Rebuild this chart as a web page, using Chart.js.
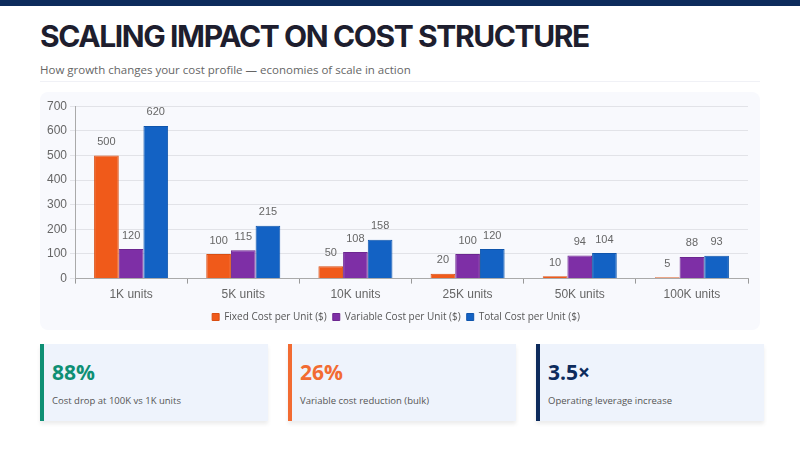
<!DOCTYPE html>
<html>
<head>
<meta charset="utf-8">
<script src="https://cdn.jsdelivr.net/npm/chart.js@4"></script>
<style>
  body { margin: 0; width: 800px; height: 450px; background: #fff; font-family: "Open Sans", sans-serif; overflow: hidden; position: relative; }
  .topbar { position: absolute; left: 0; top: 0; width: 800px; height: 6px; background: #0d2b5c; }
  h1 { position: absolute; left: 40px; top: 18px; margin: 0; font-family: Inter, sans-serif; font-weight: 700; font-size: 30px; letter-spacing: -1.4px; color: #1e1e2e; }
  .sub { position: absolute; left: 40px; top: 62px; font-size: 11.5px; color: #666; }
  .rule { position: absolute; left: 40px; top: 81px; width: 720px; height: 1px; background: #f0f1f6; }
  .panel { position: absolute; left: 40px; top: 92px; width: 720px; height: 238px; background: #f8f9fd; border-radius: 8px; }
  .chart-wrap { position: absolute; left: 4px; top: 4px; width: 712px; height: 236px; }
  .card { position: absolute; top: 344px; width: 224px; height: 77px; background: #eef3fc; border-left: 4px solid; box-shadow: 0 3px 4px rgba(0,0,0,0.08); }
  .card .val { position: absolute; left: 8px; top: 14px; font-size: 21px; font-weight: 700; }
  .card .lbl { position: absolute; left: 8px; top: 50px; font-size: 9.5px; color: #555; }
</style>
</head>
<body>
<div class="topbar"></div>
<h1>SCALING IMPACT ON COST STRUCTURE</h1>
<div class="sub">How growth changes your cost profile — economies of scale in action</div>
<div class="rule"></div>
<div class="panel"><div class="chart-wrap"><canvas id="chart"></canvas></div></div>

<div class="card" style="left:40px;border-color:#0e8f74"><div class="val" style="color:#0e8f74">88%</div><div class="lbl">Cost drop at 100K vs 1K units</div></div>
<div class="card" style="left:288px;border-color:#f26b32"><div class="val" style="color:#f26b32">26%</div><div class="lbl">Variable cost reduction (bulk)</div></div>
<div class="card" style="left:536px;border-color:#0d2b5c"><div class="val" style="color:#0d2b5c">3.5×</div><div class="lbl">Operating leverage increase</div></div>

<script>
const categories = ['1K units', '5K units', '10K units', '25K units', '50K units', '100K units'];
const fixedCost = [500, 100, 50, 20, 10, 5];
const variableCost = [120, 115, 108, 100, 94, 88];
const totalCost = [620, 215, 158, 120, 104, 93];

// draws the value above each bar
const valueLabels = {
    id: 'valueLabels',
    afterDatasetsDraw(chart) {
        const ctx = chart.ctx;
        ctx.save();
        ctx.font = '11px "Liberation Sans", Arial, sans-serif';
        ctx.fillStyle = '#666';
        ctx.textAlign = 'center';
        ctx.textBaseline = 'bottom';
        chart.data.datasets.forEach((ds, i) => {
            chart.getDatasetMeta(i).data.forEach((bar, j) => {
                ctx.fillText(ds.data[j], bar.x, bar.y - 8);
            });
        });
        ctx.restore();
    }
};

new Chart(document.getElementById('chart'), {
    type: 'bar',
    data: {
        labels: categories,
        datasets: [
            { label: 'Fixed Cost per Unit ($)', data: fixedCost, backgroundColor: '#f05a1a', borderColor: '#d94e12', borderWidth: 1 },
            { label: 'Variable Cost per Unit ($)', data: variableCost, backgroundColor: '#7e2fa6', borderColor: '#6c2690', borderWidth: 1 },
            { label: 'Total Cost per Unit ($)', data: totalCost, backgroundColor: '#1362c4', borderColor: '#0f55ac', borderWidth: 1 }
        ]
    },
    options: {
        responsive: true,
        maintainAspectRatio: false,
        animation: false,
        layout: { padding: { left: 0, right: 8, top: 0, bottom: 0 } },
        datasets: { bar: { categoryPercentage: 0.66, barPercentage: 1 } },
        plugins: {
            legend: {
                position: 'bottom',
                labels: { boxWidth: 7, boxHeight: 7, padding: 6, color: '#555', font: { family: '"Open Sans", sans-serif', size: 10 } }
            },
            tooltip: { enabled: false }
        },
        scales: {
            x: {
                grid: { drawOnChartArea: false, tickLength: 5, color: '#999' },
                border: { color: '#aaa' },
                ticks: { color: '#666', padding: 4, font: { family: '"Liberation Sans", Arial, sans-serif', size: 12 } }
            },
            y: {
                min: 0,
                max: 700,
                ticks: { stepSize: 100, color: '#666', font: { family: '"Liberation Sans", Arial, sans-serif', size: 12 } },
                grid: { color: '#e2e3e8', tickLength: 5 },
                border: { color: '#aaa' }
            }
        }
    },
    plugins: [valueLabels]
});
</script>
</body>
</html>
